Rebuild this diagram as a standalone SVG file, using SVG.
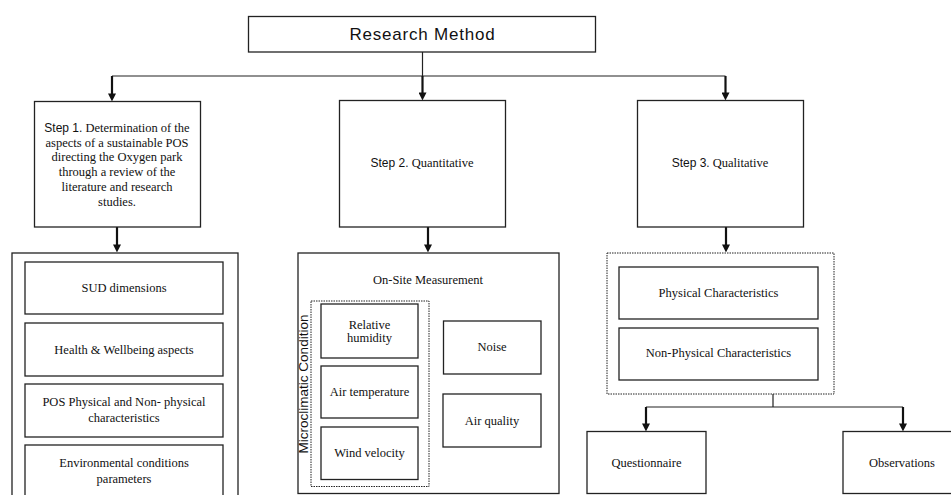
<svg xmlns="http://www.w3.org/2000/svg" width="951" height="495" viewBox="0 0 951 495">
<style>
.box{fill:#fff;stroke:#222;stroke-width:1.3}
.dot{fill:none;stroke:#222;stroke-width:1;stroke-dasharray:1.5 1}
.t{font-family:"Liberation Serif","Times New Roman",serif;font-size:12.5px;fill:#111;text-anchor:middle}
.s{font-family:"Liberation Sans",Arial,sans-serif}
.ln{fill:none;stroke:#222;stroke-width:1.2}
.ar{fill:none;stroke:#111;stroke-width:2.2;marker-end:url(#ah)}
</style>
<defs>
<marker id="ah" markerUnits="userSpaceOnUse" markerWidth="8" markerHeight="8" refX="4" refY="3.5" orient="auto" viewBox="0 0 7 7">
<path d="M0,0 L7,3.5 L0,7 Z" fill="#111"/>
</marker>
</defs>
<rect width="951" height="495" fill="#fff"/>
<g id="connectors">
<path class="ln" d="M422.5,52 V76 M112,76 H725.5"/>
<line class="ar" x1="112" y1="76" x2="112" y2="98"/>
<line class="ar" x1="422.5" y1="76" x2="422.5" y2="97"/>
<line class="ar" x1="725.5" y1="76" x2="725.5" y2="97"/>
<line class="ar" x1="117" y1="227" x2="117" y2="249"/>
<line class="ar" x1="428" y1="227" x2="428" y2="249"/>
<line class="ar" x1="726" y1="227" x2="726" y2="249"/>
<path class="ln" d="M773,394 V407 M646,407 H903"/>
<line class="ar" x1="646" y1="407" x2="646" y2="428"/>
<line class="ar" x1="903" y1="407" x2="903" y2="428"/>
</g>
<g id="research-method">
<rect class="box" x="248.5" y="16.5" width="347" height="35.5"/>
<text class="s" x="422.5" y="40" font-size="17" text-anchor="middle" letter-spacing="0.8" fill="#111">Research Method</text>
</g>
<g id="step1">
<rect class="box" x="34.5" y="101.5" width="166" height="125.5"/>
<text class="t" x="117" y="132"><tspan class="s" font-size="12">Step 1.</tspan> Determination of the</text>
<text class="t" x="117" y="147">aspects of a sustainable POS</text>
<text class="t" x="117" y="161">directing the Oxygen park</text>
<text class="t" x="117" y="176">through a review of the</text>
<text class="t" x="117" y="191">literature and research</text>
<text class="t" x="117" y="206">studies.</text>
</g>
<g id="step2">
<rect class="box" x="339.5" y="100.5" width="166" height="126.5"/>
<text class="t" x="422" y="167"><tspan class="s" font-size="12">Step 2.</tspan> Quantitative</text>
</g>
<g id="step3">
<rect class="box" x="637.5" y="100.5" width="166" height="126.5"/>
<text class="t" x="720" y="167"><tspan class="s" font-size="12">Step 3.</tspan> Qualitative</text>
</g>
<g id="aspects-group">
<rect class="box" x="12" y="253" width="226" height="250"/>
</g>
<g id="sud">
<rect class="box" x="25" y="262" width="198" height="52"/>
<text class="t" x="124" y="292">SUD dimensions</text>
</g>
<g id="health">
<rect class="box" x="25" y="323" width="198" height="53"/>
<text class="t" x="124" y="354">Health &amp; Wellbeing aspects</text>
</g>
<g id="pos">
<rect class="box" x="25" y="384" width="198" height="53"/>
<text class="t" x="124" y="406">POS Physical and Non- physical</text>
<text class="t" x="124" y="422">characteristics</text>
</g>
<g id="env">
<rect class="box" x="25" y="445" width="198" height="60"/>
<text class="t" x="124" y="467">Environmental conditions</text>
<text class="t" x="124" y="483">parameters</text>
</g>
<g id="onsite">
<rect class="box" x="298" y="253" width="261" height="240.5"/>
<text class="t" x="428" y="284">On-Site Measurement</text>
</g>
<g id="microclimatic">
<rect class="dot" x="311" y="301" width="118" height="185.5"/>
<text class="s" x="0" y="0" font-size="13.5" text-anchor="middle" fill="#111" transform="translate(308,384) rotate(-90)">Microclimatic Condition</text>
</g>
<g id="humidity">
<rect class="box" x="321" y="304" width="97" height="54"/>
<text class="t" x="369.5" y="329">Relative</text>
<text class="t" x="369.5" y="342">humidity</text>
</g>
<g id="airtemp">
<rect class="box" x="321" y="366" width="97" height="52"/>
<text class="t" x="369.5" y="396">Air temperature</text>
</g>
<g id="wind">
<rect class="box" x="321" y="427" width="97" height="52.5"/>
<text class="t" x="369.5" y="457">Wind velocity</text>
</g>
<g id="noise">
<rect class="box" x="443.5" y="321" width="97.5" height="53"/>
<text class="t" x="492" y="351">Noise</text>
</g>
<g id="airquality">
<rect class="box" x="443" y="394" width="98" height="53"/>
<text class="t" x="492" y="425">Air quality</text>
</g>
<g id="characteristics">
<rect class="dot" x="607" y="253" width="227" height="141"/>
</g>
<g id="physical">
<rect class="box" x="619" y="267" width="199" height="52"/>
<text class="t" x="718.5" y="297">Physical Characteristics</text>
</g>
<g id="nonphysical">
<rect class="box" x="619" y="328" width="199" height="52"/>
<text class="t" x="718.5" y="357">Non-Physical Characteristics</text>
</g>
<g id="questionnaire">
<rect class="box" x="587" y="431.5" width="119" height="62"/>
<text class="t" x="646.5" y="467">Questionnaire</text>
</g>
<g id="observations">
<rect class="box" x="843" y="431.5" width="112" height="62"/>
<text class="t" x="902" y="467">Observations</text>
</g>
</svg>
